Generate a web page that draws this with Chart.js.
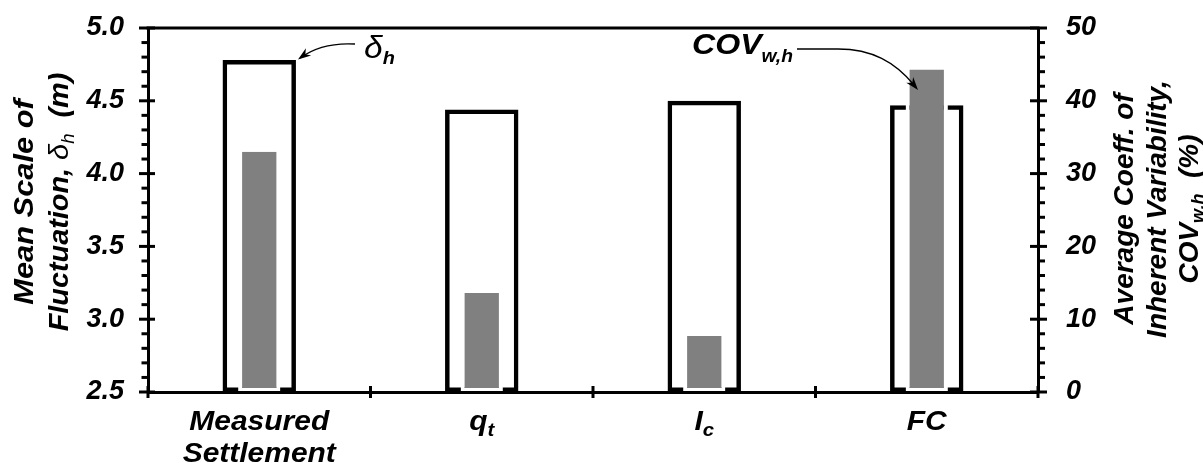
<!DOCTYPE html>
<html><head><meta charset="utf-8">
<script src="https://cdn.jsdelivr.net/npm/chart.js@4.4.1/dist/chart.umd.min.js"></script>
<style>html,body{margin:0;padding:0;background:#fff}#wrap{width:1203px;height:463px;position:relative}</style>
</head><body><div id="wrap"><canvas id="c"></canvas></div>
<script>
// ---- data ----
const categories = ['Measured Settlement', 'q_t', 'I_c', 'FC'];
const scaleOfFluctuation = [4.78, 4.44, 4.50, 4.47];      // left axis (m)
const covPercent = [33.0, 13.6, 7.7, 44.3];               // right axis (%)
const leftAxisTicks = [2.5, 3.0, 3.5, 4.0, 4.5, 5.0];
const rightAxisTicks = [0, 10, 20, 30, 40, 50];

const FAM = '"Liberation Sans", Arial, Helvetica, sans-serif';
const STRETCH = 1.07;
function fnt(size, weight, style) { return (style || 'italic') + ' ' + (weight || 'bold') + ' ' + size + 'px ' + FAM; }

function richWidth(ctx, segs) { let w = 0; for (const s of segs) { ctx.font = s.font; w += ctx.measureText(s.t).width; } return w; }
function drawRich(ctx, segs, x, y) {
  for (const s of segs) { ctx.font = s.font; ctx.fillText(s.t, x, y + (s.dy || 0)); x += ctx.measureText(s.t).width; }
}
function drawRichAt(ctx, segs, x, y, sx, centered) {
  ctx.save(); ctx.translate(x, y); ctx.scale(sx, 1);
  const w = richWidth(ctx, segs);
  drawRich(ctx, segs, centered ? -w / 2 : 0, 0);
  ctx.restore();
}

function labelSegs(str, size, subSize) {
  const i = str.indexOf('_');
  if (i < 0) return [{ t: str, font: fnt(size) }];
  return [{ t: str.slice(0, i), font: fnt(size) }, { t: str.slice(i + 1), font: fnt(subSize), dy: 6 }];
}

function arrowHead(ctx, tx, ty, dx, dy) {
  const len = Math.hypot(dx, dy); const ux = dx / len, uy = dy / len;
  const L = 13, W = 4.5;
  const bx = tx - ux * L, by = ty - uy * L;
  const nx = -uy, ny = ux;
  ctx.beginPath();
  ctx.moveTo(tx, ty);
  ctx.lineTo(bx + nx * W, by + ny * W);
  ctx.lineTo(tx - ux * L * 0.7, ty - uy * L * 0.7);
  ctx.lineTo(bx - nx * W, by - ny * W);
  ctx.closePath();
  ctx.fill();
}

const decor = {
  id: 'decor',
  afterDraw(chart) {
    const ctx = chart.ctx, a = chart.chartArea;
    const y = chart.scales.y, y1 = chart.scales.y1, x = chart.scales.x;
    ctx.save();
    ctx.strokeStyle = '#000'; ctx.fillStyle = '#000'; ctx.lineWidth = 3; ctx.lineCap = 'butt';
    const ln = (x0, y0, x1, y1_) => { ctx.beginPath(); ctx.moveTo(x0, y0); ctx.lineTo(x1, y1_); ctx.stroke(); };
    ln(a.left - 1.5, a.top, a.right + 1.5, a.top);
    const lmin = leftAxisTicks[0], lmax = leftAxisTicks[leftAxisTicks.length - 1];
    for (let k = 0; k <= Math.round((lmax - lmin) / 0.1); k++) {
      const v = lmin + k * 0.1, py = y.getPixelForValue(v);
      if (k % 5 === 0) ln(a.left - 9, py, a.left + 7, py); else ln(a.left - 6.5, py, a.left, py);
    }
    const rmin = rightAxisTicks[0], rmax = rightAxisTicks[rightAxisTicks.length - 1];
    for (let v = rmin; v <= rmax; v += 2) {
      const py = y1.getPixelForValue(v);
      if (v % 10 === 0) ln(a.right - 8, py, a.right + 9, py); else ln(a.right, py, a.right + 7, py);
    }
    const n = categories.length;
    const bounds = [a.left];
    for (let i = 0; i < n - 1; i++) bounds.push((x.getPixelForTick(i) + x.getPixelForTick(i + 1)) / 2);
    bounds.push(a.right);
    for (const bx of bounds) ln(bx, a.bottom - 6, bx, a.bottom + 6);

    ctx.textAlign = 'left'; ctx.textBaseline = 'alphabetic';
    categories.forEach((c, i) => {
      const cx = x.getPixelForTick(i);
      const lines = c.split(' ');
      lines.forEach((l, j) => drawRichAt(ctx, labelSegs(l, 28, 19), cx, a.bottom + 38 + j * 32, STRETCH, true));
    });

    const leftLines = [
      [{ t: 'Mean Scale of', font: fnt(28) }],
      [{ t: 'Fluctuation, ', font: fnt(28) }, { t: '\u03B4', font: fnt(28, 'normal') }, { t: 'h', font: fnt(18, 'normal'), dy: 6 }, { t: '  (m)', font: fnt(28) }]
    ];
    const leftBase = [33, 68];
    const leftStretch = [1.1, 1.03];
    leftLines.forEach((segs, i) => {
      ctx.save(); ctx.translate(leftBase[i], 202); ctx.rotate(-Math.PI / 2);
      drawRichAt(ctx, segs, 0, 0, leftStretch[i], true); ctx.restore();
    });
    const rightLines = [
      [{ t: 'Average Coeff. of', font: fnt(28) }],
      [{ t: 'Inherent Variability,', font: fnt(28) }],
      [{ t: 'COV', font: fnt(28) }, { t: 'w,h', font: fnt(18), dy: 6 }, { t: '  (%)', font: fnt(28) }]
    ];
    const rightBase = [1133, 1166, 1198];
    rightLines.forEach((segs, i) => {
      ctx.save(); ctx.translate(rightBase[i], 209); ctx.rotate(-Math.PI / 2);
      drawRichAt(ctx, segs, 0, 0, 1, true); ctx.restore();
    });

    drawRichAt(ctx, [{ t: '\u03B4', font: fnt(32, 'normal') }, { t: 'h', font: fnt(19), dy: 6 }], 364, 58, 1.05, false);
    ctx.lineWidth = 1.3;
    const p0 = { x: 355, y: 44 }, pc = { x: 322, y: 42 }, pe = { x: 300, y: 58 };
    ctx.beginPath(); ctx.moveTo(p0.x, p0.y); ctx.quadraticCurveTo(pc.x, pc.y, pe.x, pe.y); ctx.stroke();
    arrowHead(ctx, pe.x - 2, pe.y + 1.5, pe.x - pc.x, pe.y - pc.y);

    drawRichAt(ctx, [{ t: 'COV', font: fnt(30) }, { t: 'w,h', font: fnt(18), dy: 8 }], 692, 54, STRETCH, false);
    ctx.beginPath(); ctx.moveTo(797, 49); ctx.lineTo(838, 49);
    ctx.bezierCurveTo(872, 49, 895, 62, 914, 85); ctx.stroke();
    arrowHead(ctx, 918, 90, 914 - 895, 85 - 62);
    ctx.restore();
  }
};

const tickFont = { family: FAM, size: 27, weight: 'bold', style: 'italic' };
function fixPad(s, w) { s.width = w; s.paddingTop = 0; s.paddingBottom = 0; }

new Chart(document.getElementById('c'), {
  type: 'bar',
  data: {
    labels: categories,
    datasets: [
      { label: 'COV w,h', data: covPercent, yAxisID: 'y1', backgroundColor: '#808080', borderColor: '#ffffff',
        borderWidth: 4, borderSkipped: 'top', grouped: false, categoryPercentage: 1, barPercentage: 0.19, order: 0 },
      { label: 'delta h', data: scaleOfFluctuation, yAxisID: 'y', backgroundColor: 'rgba(0,0,0,0)', borderColor: '#000000',
        borderWidth: 4.5, borderSkipped: false, grouped: false, categoryPercentage: 1, barPercentage: 0.33, base: leftAxisTicks[0], order: 1 }
    ]
  },
  options: {
    responsive: true, maintainAspectRatio: false, animation: false,
    layout: { padding: { top: 28, left: 0, right: 0, bottom: 0 } },
    plugins: { legend: { display: false }, tooltip: { enabled: false } },
    scales: {
      x: {
        grid: { display: false, drawTicks: false }, border: { display: true, color: '#000', width: 3, z: 1 },
        ticks: { display: false }, afterFit(s) { s.height = 71; s.paddingLeft = 0; s.paddingRight = 0; }
      },
      y: {
        position: 'left', min: leftAxisTicks[0], max: leftAxisTicks[leftAxisTicks.length - 1],
        afterBuildTicks(s) { s.ticks = leftAxisTicks.map(v => ({ value: v })); },
        ticks: { padding: 24, color: '#000', font: tickFont, callback: v => Number(v).toFixed(1) },
        grid: { display: false, drawTicks: false }, border: { display: true, color: '#000', width: 3, z: 1 },
        afterFit(s) { fixPad(s, 148); }
      },
      y1: {
        position: 'right', min: rightAxisTicks[0], max: rightAxisTicks[rightAxisTicks.length - 1],
        afterBuildTicks(s) { s.ticks = rightAxisTicks.map(v => ({ value: v })); },
        ticks: { padding: 28, color: '#000', font: tickFont, callback: v => String(v) },
        grid: { display: false, drawTicks: false }, border: { display: true, color: '#000', width: 3, z: 1 },
        afterFit(s) { fixPad(s, 165); }
      }
    }
  },
  plugins: [decor]
});
</script>
</body></html>
